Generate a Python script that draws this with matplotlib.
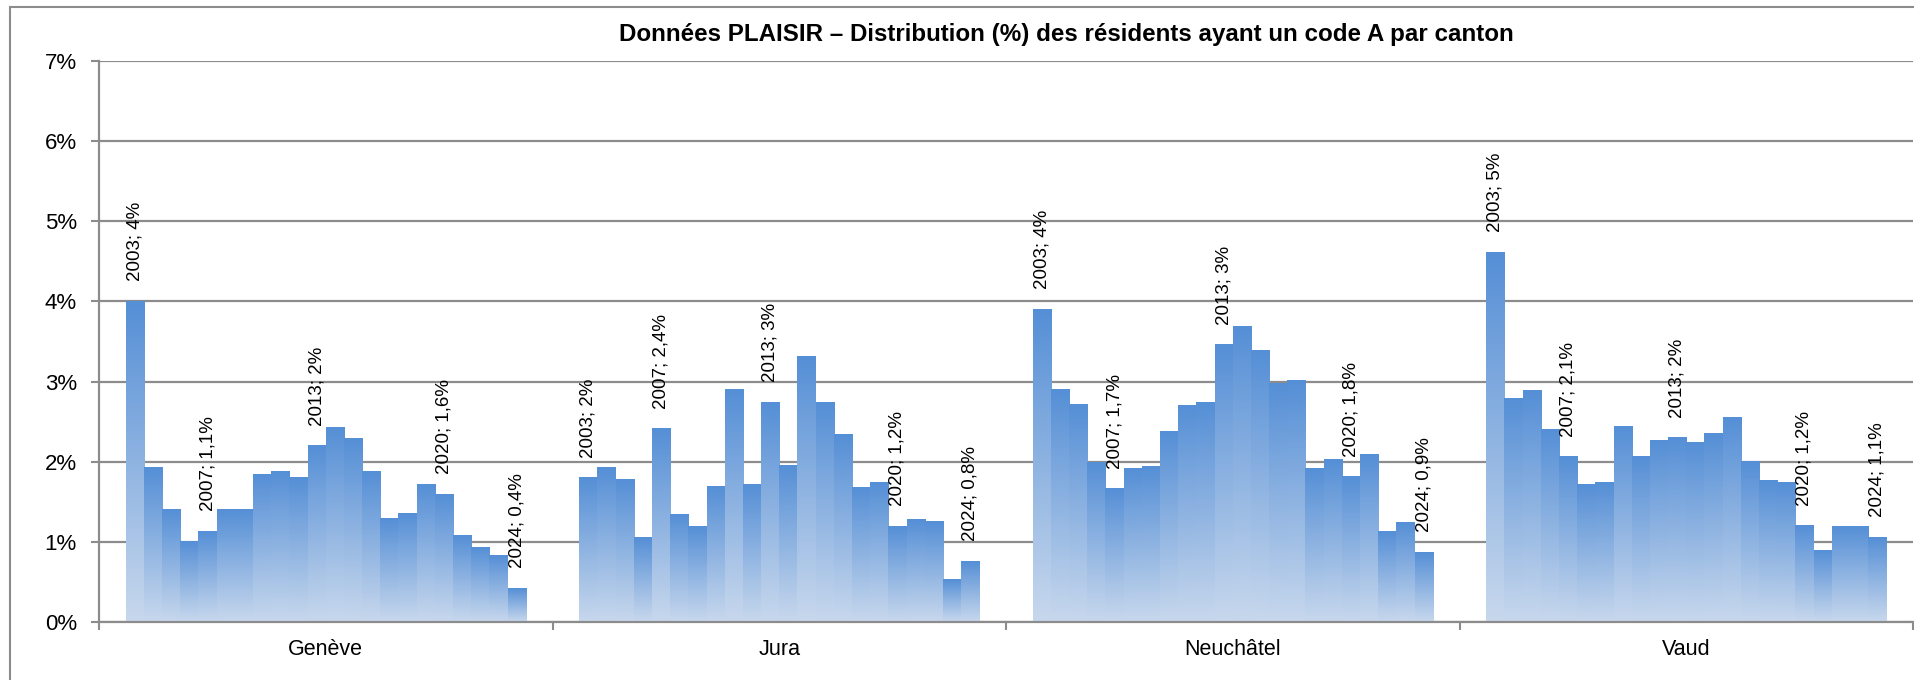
import numpy as np
import matplotlib
matplotlib.use('Agg')
import matplotlib.pyplot as plt
from matplotlib.patches import Rectangle

plt.rcParams['font.family'] = ['Liberation Sans', 'DejaVu Sans']

# data (% of residents with code A)
years = list(range(2003, 2025))
cantons = ['Genève', 'Jura', 'Neuchâtel', 'Vaud']

geneve = [4.00, 1.93, 1.40, 1.00, 1.13, 1.40, 1.40, 1.84, 1.88, 1.80, 2.20,
          2.43, 2.29, 1.88, 1.29, 1.36, 1.71, 1.59, 1.08, 0.93, 0.83, 0.42]
jura = [1.80, 1.93, 1.78, 1.06, 2.41, 1.34, 1.19, 1.69, 2.90, 1.71, 2.74,
        1.95, 3.31, 2.74, 2.34, 1.68, 1.74, 1.19, 1.28, 1.25, 0.53, 0.76]
neuchatel = [3.90, 2.90, 2.72, 1.99, 1.66, 1.91, 1.94, 2.38, 2.70, 2.74, 3.46,
             3.69, 3.39, 2.97, 3.01, 1.91, 2.03, 1.81, 2.09, 1.13, 1.24, 0.87]
vaud = [4.61, 2.79, 2.89, 2.40, 2.06, 1.71, 1.74, 2.44, 2.06, 2.26, 2.30,
        2.24, 2.35, 2.55, 2.00, 1.76, 1.74, 1.20, 0.89, 1.19, 1.19, 1.06]

label_years = [2003, 2007, 2013, 2020, 2024]
label_decimals = [0, 1, 0, 1, 1]

series = [geneve, jura, neuchatel, vaud]

top_col = np.array([85, 143, 214]) / 255
bot_col = np.array([200, 216, 237]) / 255
grad = np.linspace(0, 1, 256)[:, None, None]
grad_img = top_col * (1 - grad) + bot_col * grad

fig = plt.figure(figsize=(19.15, 6.8), dpi=100)
ax = fig.add_axes([99 / 1915, 1 - 622 / 680, (1913 - 99) / 1915, (622 - 61) / 680])

n = len(years)
bw = 0.882 / n
start = 0.059

for ci, vals in enumerate(series):
    xs = ci + start + bw * (np.arange(n) + 0.5)
    bars = ax.bar(xs, vals, width=bw, color='none', edgecolor='none', zorder=2)
    for p in bars:
        x0, h = p.get_x(), p.get_height()
        ax.imshow(grad_img, extent=(x0, x0 + bw, 0, h), origin='upper',
                  aspect='auto', interpolation='bilinear', zorder=2)
    for yr, dec in zip(label_years, label_decimals):
        i = years.index(yr)
        txt = f"{yr}; {vals[i]:.{dec}f}%".replace('.', ',')
        ax.annotate(txt, (xs[i], vals[i]), xytext=(0, 14.5), textcoords='offset points',
                    rotation=90, ha='center', va='bottom', fontsize=13.5, color='black')

ax.set_xlim(0, 4)
ax.set_ylim(0, 7)

ax.set_yticks(range(0, 8))
ax.set_yticklabels([f'{v}%' for v in range(0, 8)], fontsize=16)
ax.yaxis.grid(True, color='#8c8c8c', lw=1.6, zorder=0)
ax.set_axisbelow(True)

ax.set_xticks(range(0, 5))
ax.set_xticklabels([])
ax.set_xticks(np.arange(4) + 0.5, minor=True)
ax.set_xticklabels(cantons, minor=True, fontsize=15.5)
ax.tick_params(axis='x', which='minor', length=0, pad=12)
ax.tick_params(axis='x', which='major', length=6, width=1.5, color='#8c8c8c', direction='out')
ax.tick_params(axis='y', length=6, width=1.5, color='#8c8c8c', pad=10)

for s in ['top', 'right']:
    ax.spines[s].set_visible(False)
for s in ['left', 'bottom']:
    ax.spines[s].set_color('#8c8c8c')
    ax.spines[s].set_linewidth(1.6)

fig.text(1066 / 1915, 1 - 34 / 680, 'Données PLAISIR – Distribution (%) des résidents ayant un code A par canton',
         ha='center', va='center', fontsize=17.4, fontweight='bold')

fig.patches.append(Rectangle((10 / 1915, -0.05), 1.1, 1.05 - 7 / 680, transform=fig.transFigure,
                             fill=False, edgecolor='#8c8c8c', lw=1.5))

fig.savefig('out.png', dpi=100)
